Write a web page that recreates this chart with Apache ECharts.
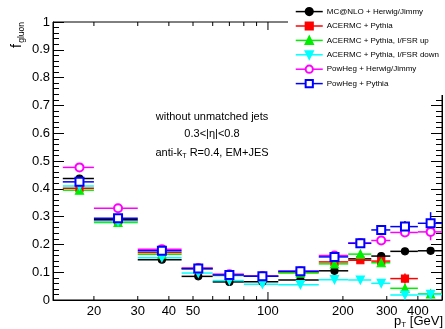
<!DOCTYPE html>
<html><head><meta charset="utf-8">
<script src="https://cdn.jsdelivr.net/npm/echarts@6/dist/echarts.min.js"></script>
<style>html,body{margin:0;padding:0;background:#fff}#c{width:445px;height:329px}</style>
</head><body><div id="c"></div>
<script>
// ---- data ----
const binEdges   = [15, 20, 30, 45, 60, 80, 110, 160, 210, 260, 310, 400, 500];
const binCenters = [17.5, 25, 37.5, 52.5, 70, 95, 135, 185, 235, 285, 355, 450];
const seriesNames = ['MC@NLO + Herwig/Jimmy', 'ACERMC + Pythia', 'ACERMC + Pythia, I/FSR up',
                     'ACERMC + Pythia, I/FSR down', 'PowHeg + Herwig/Jimmy', 'PowHeg + Pythia'];
const mcatnlo      = [0.437, 0.290, 0.145, 0.085, 0.065, 0.066, 0.072, 0.105, 0.148, 0.158, 0.175, 0.177];
const mcatnloErr   = [0.003, 0.003, 0.003, 0.003, 0.003, 0.003, 0.004, 0.005, 0.006, 0.007, 0.008, 0.010];
const acer         = [0.402, 0.285, 0.171, 0.112, 0.090, 0.085, 0.100, 0.137, 0.143, 0.140, 0.077, null];
const acerErr      = [0.003, 0.003, 0.003, 0.003, 0.003, 0.003, 0.004, 0.005, 0.007, 0.009, 0.018, null];
const acerUp       = [0.395, 0.279, 0.165, 0.113, 0.088, 0.086, 0.097, 0.130, 0.165, 0.134, 0.042, 0.022];
const acerUpErr    = [0.003, 0.003, 0.003, 0.003, 0.003, 0.003, 0.004, 0.005, 0.007, 0.009, 0.015, 0.012];
const acerDown     = [0.410, 0.282, 0.152, 0.097, 0.070, 0.057, 0.055, 0.073, 0.072, 0.060, 0.018, 0.020];
const acerDownErr  = [0.003, 0.003, 0.003, 0.003, 0.003, 0.003, 0.004, 0.004, 0.005, 0.006, 0.010, 0.015];
const powHerwig    = [0.477, 0.330, 0.183, 0.115, 0.093, 0.086, 0.103, 0.160, 0.205, 0.214, 0.243, 0.245];
const powHerwigErr = [0.003, 0.003, 0.003, 0.003, 0.003, 0.003, 0.004, 0.005, 0.007, 0.010, 0.015, 0.030];
const powPythia    = [0.425, 0.294, 0.177, 0.113, 0.090, 0.085, 0.103, 0.155, 0.204, 0.252, 0.264, 0.276];
const powPythiaErr = [0.003, 0.003, 0.003, 0.003, 0.003, 0.003, 0.004, 0.005, 0.010, 0.018, 0.020, 0.040];
const xTickValues  = [20, 30, 40, 50, 60, 70, 80, 90, 100, 200, 300, 400];
const xTickLabels  = ['20', '30', '40', '50', '', '', '', '', '100', '200', '300', '400'];

const values = [mcatnlo, acer, acerUp, acerDown, powHerwig, powPythia];
const errors = [mcatnloErr, acerErr, acerUpErr, acerDownErr, powHerwigErr, powPythiaErr];

// ---- styles ----
const FONT = 'Liberation Sans, Arial, sans-serif';
const looks = [
  {color: '#000000', symbol: 'circle', size: 7},
  {color: '#ff0000', symbol: 'rect', size: 7},
  {color: '#00ee00', symbol: 'triangle', size: 8},
  {color: '#00ffff', symbol: 'path://M0,0L10,0L5,9Z', size: 8},
  {color: '#ff00ff', symbol: 'emptyCircle', size: 8},
  {color: '#0000ff', symbol: 'emptyRect', size: 8}
];

function errRender(params, api) {
  const xc = api.value(0), y = api.value(1), lo = api.value(2), hi = api.value(3), e = api.value(4);
  const a = api.coord([lo, y]), b = api.coord([hi, y]);
  const c1 = api.coord([xc, y - e]), c2 = api.coord([xc, y + e]);
  const st = {stroke: api.visual('color'), lineWidth: 1.5};
  return {type: 'group', children: [
    {type: 'line', shape: {x1: a[0], y1: a[1], x2: b[0], y2: b[1]}, style: st},
    {type: 'line', shape: {x1: c1[0], y1: c1[1], x2: c2[0], y2: c2[1]}, style: st}
  ]};
}

function tickRender(params, api) {
  const v = api.value(0);
  const idx = params.dataIndex;
  const p0 = api.coord([v, 0]), p1 = api.coord([v, 1]);
  const len = v === 100 ? 8 : 4;
  const st = {stroke: '#000', lineWidth: 1};
  const ch = [
    {type: 'line', shape: {x1: p0[0], y1: p0[1], x2: p0[0], y2: p0[1] - len}, style: st},
    {type: 'line', shape: {x1: p1[0], y1: p1[1], x2: p1[0], y2: p1[1] + len}, style: st}
  ];
  if (xTickLabels[idx]) {
    ch.push({type: 'text', style: {text: xTickLabels[idx], x: p0[0], y: p0[1] + 11, align: 'center',
      verticalAlign: 'middle', fontSize: 13, fontFamily: FONT, fill: '#000'}});
  }
  return {type: 'group', children: ch};
}

const series = [];
values.forEach((vals, i) => {
  const errData = [], ptData = [];
  vals.forEach((v, k) => {
    if (v === null) return;
    errData.push([binCenters[k], v, binEdges[k], binEdges[k + 1], errors[i][k]]);
    ptData.push([binCenters[k], v]);
  });
  series.push({
    type: 'custom', name: 'err' + i, renderItem: errRender, data: errData,
    encode: {x: 0, y: 1}, itemStyle: {color: looks[i].color}, silent: true
  });
  series.push({
    type: 'line', name: seriesNames[i], data: ptData,
    symbol: looks[i].symbol, symbolSize: looks[i].size, showSymbol: true,
    itemStyle: {color: looks[i].color, borderColor: looks[i].color, borderWidth: 1.2},
    lineStyle: {color: looks[i].color, opacity: 0, width: 0},
    silent: true
  });
});
series.push({
  type: 'custom', name: 'ticks', renderItem: tickRender,
  data: xTickValues.map(v => [v, 0.5]), encode: {x: 0, y: 1}, silent: true
});

const yAxisBase = {
  type: 'value', min: 0, max: 1, interval: 0.1,
  axisLine: {show: true, lineStyle: {color: '#000', width: 1}},
  axisTick: {show: true, inside: true, length: 11, lineStyle: {color: '#000'}},
  minorTick: {show: true, splitNumber: 5, length: 6, lineStyle: {color: '#000'}},
  splitLine: {show: false}
};

const option = {
  animation: false,
  backgroundColor: '#fff',
  grid: {left: 53, right: 3, top: 22, bottom: 29, show: true, borderColor: '#000', borderWidth: 1,
         backgroundColor: 'transparent'},
  xAxis: [
    {type: 'log', logBase: 10, min: 13.7, max: 500, position: 'bottom',
     axisLine: {show: true, lineStyle: {color: '#000', width: 1}},
     axisTick: {show: false}, axisLabel: {show: false}, splitLine: {show: false}}
  ],
  yAxis: [
    Object.assign({}, yAxisBase, {position: 'left',
      axisLabel: {fontSize: 13, fontFamily: FONT, color: '#000', margin: 3}}),
    Object.assign({}, yAxisBase, {position: 'right', axisLabel: {show: false}})
  ],
  legend: {
    data: seriesNames, orient: 'vertical', left: 295, top: 7,
    itemWidth: 27, itemHeight: 9, itemGap: 5.2, padding: 0, z: 60,
    selectedMode: false,
    textStyle: {fontSize: 8, fontFamily: FONT, color: '#000', padding: [0, 0, 0, -1]},
    lineStyle: {opacity: 1, width: 1.5}
  },
  graphic: [
    {type: 'rect', z: 50, shape: {x: 288, y: 0, width: 157, height: 95}, style: {fill: '#fff'}},
    {type: 'text', x: 22, y: 22, rotation: Math.PI / 2, z: 55,
     style: {text: 'gluon', align: 'right', verticalAlign: 'middle', fontSize: 8.5, fontFamily: FONT, fill: '#000'}},
    {type: 'text', x: 17, y: 44, rotation: Math.PI / 2, z: 55,
     style: {text: 'f', align: 'right', verticalAlign: 'middle', fontSize: 14, fontFamily: FONT, fill: '#000'}},
    {type: 'text', x: 443, y: 321, z: 55,
     style: {text: '{a|p}{s|T}{a| [GeV]}', align: 'right', verticalAlign: 'middle', fill: '#000',
       rich: {a: {fontSize: 13, fontFamily: FONT, lineHeight: 16},
              s: {fontSize: 8, fontFamily: FONT, lineHeight: 16, verticalAlign: 'bottom'}}}},
    {type: 'text', x: 212, y: 117, z: 55,
     style: {text: 'without unmatched jets', align: 'center', verticalAlign: 'middle', fontSize: 11, fontFamily: FONT, fill: '#000'}},
    {type: 'text', x: 212, y: 134, z: 55,
     style: {text: '0.3<|η|<0.8', align: 'center', verticalAlign: 'middle', fontSize: 11, fontFamily: FONT, fill: '#000'}},
    {type: 'text', x: 212, y: 153, z: 55,
     style: {text: '{a|anti-k}{s|T}{a| R=0.4, EM+JES}', align: 'center', verticalAlign: 'middle', fill: '#000',
       rich: {a: {fontSize: 11, fontFamily: FONT, lineHeight: 14},
              s: {fontSize: 7, fontFamily: FONT, lineHeight: 14, verticalAlign: 'bottom'}}}}
  ],
  series: series
};

const chart = echarts.init(document.getElementById('c'), null, {renderer: 'canvas'});
chart.setOption(option);
</script>
</body></html>
